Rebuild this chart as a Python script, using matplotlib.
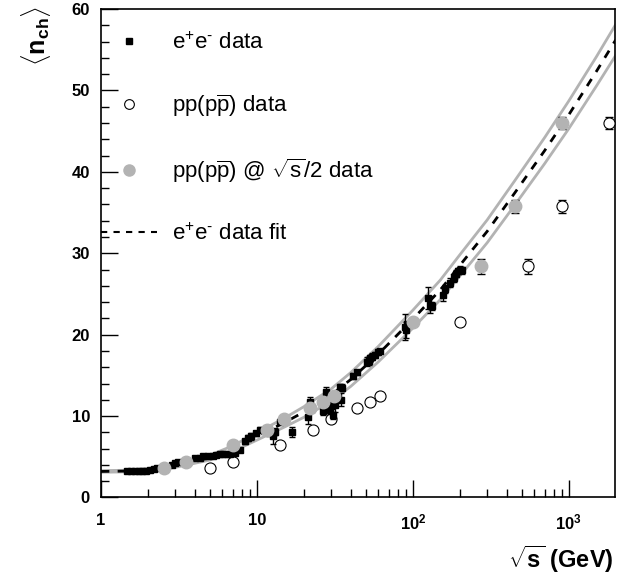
import numpy as np
import matplotlib as mpl
mpl.use('Agg')
import matplotlib.pyplot as plt
from matplotlib.ticker import MultipleLocator, LogLocator, NullFormatter
from matplotlib.lines import Line2D

mpl.rcParams['font.family'] = ['Liberation Sans', 'DejaVu Sans']
mpl.rcParams['mathtext.fontset'] = 'custom'
mpl.rcParams['mathtext.rm'] = 'Liberation Sans'
mpl.rcParams['mathtext.it'] = 'Liberation Sans'
mpl.rcParams['mathtext.bf'] = 'Liberation Sans:bold'

# e+e- data (sqrt(s) GeV, <n_ch>, error)
ee_x = [1.46, 1.55, 1.65, 1.75, 1.82, 1.95, 2.06, 2.2, 2.27, 2.84, 3.0, 3.13,
        3.63, 4.0, 4.3, 4.52, 4.87, 5.2, 5.5, 5.8, 6.07, 6.4, 6.7, 7.2, 7.8,
        8.4, 8.8, 9.2, 9.9, 10.4, 12.0, 12.7, 13.0, 14.0, 14.7, 16.8, 21.2,
        21.9, 22.5, 26.5, 27.9, 29.3, 30.1, 30.8, 31.5, 34.0, 34.5, 35.0,
        41.3, 43.6, 50.6, 52.0, 53.0, 55.0, 57.0, 59.7, 62.0, 89.0, 91.0,
        91.2, 125, 129, 133, 156, 161, 172, 183, 189, 196, 200, 206]
ee_y = [3.2, 3.25, 3.3, 3.2, 3.2, 3.3, 3.4, 3.5, 3.6, 4.0, 4.2, 4.3,
        4.4, 4.8, 4.9, 5.1, 5.1, 5.15, 5.2, 5.3, 5.35, 5.4, 5.4, 5.5, 5.8,
        6.9, 7.3, 7.5, 7.9, 8.3, 8.0, 7.5, 8.1, 9.3, 9.5, 8.0, 9.9,
        11.7, 11.0, 10.6, 13.0, 10.8, 11.4, 10.1, 11.3, 13.6, 12.0, 13.5,
        14.9, 15.4, 16.7, 16.8, 17.1, 17.3, 17.5, 17.9, 18.0, 21.0, 20.6,
        21.3, 24.5, 23.7, 23.5, 24.9, 25.6, 26.4, 27.0, 27.5, 27.8, 28.0, 27.9]
ee_err = [0.1, 0.1, 0.1, 0.1, 0.1, 0.1, 0.1, 0.1, 0.1, 0.1, 0.1, 0.1,
          0.1, 0.1, 0.1, 0.1, 0.15, 0.1, 0.1, 0.1, 0.1, 0.1, 0.1, 0.1, 0.2,
          0.3, 0.4, 0.4, 0.3, 0.3, 0.4, 0.9, 0.4, 0.3, 0.3, 0.6, 0.9,
          0.6, 0.5, 0.5, 0.6, 0.5, 0.5, 0.4, 0.8, 0.4, 0.8, 0.4,
          0.4, 0.3, 0.5, 0.5, 0.4, 0.4, 0.4, 0.4, 0.3, 1.6, 1.0,
          0.2, 1.4, 1.0, 0.5, 0.8, 0.5, 0.5, 0.5, 0.4, 0.4, 0.4, 0.4]

# pp(ppbar) data
pp_x = [5.0, 7.0, 14.0, 23.0, 30.0, 44.0, 53.0, 62.0, 200.0, 546.0, 900.0, 1800.0]
pp_y = [3.6, 4.4, 6.5, 8.3, 9.6, 11.0, 11.7, 12.5, 21.6, 28.4, 35.8, 46.0]
pp_err = [0.0, 0.0, 0.0, 0.0, 0.0, 0.0, 0.0, 0.0, 0.0, 0.9, 0.8, 0.7]

# pp(ppbar) at sqrt(s)/2
pph_x = [2.55, 3.5, 7.0, 11.6, 15.0, 22.0, 26.5, 31.0, 100.0, 273.0, 450.0, 900.0]
pph_y = pp_y
pph_err = pp_err

# e+e- fit and its band
fit_x = [1, 1.5, 2, 3, 5, 7, 10, 15, 20, 30, 40, 60, 100, 150, 200, 300,
         450, 700, 1000, 1500, 2000]
fit_y = [3.2, 3.25, 3.4, 3.9, 4.9, 6.0, 7.5, 9.2, 10.5, 12.6, 14.5, 17.6,
         21.9, 25.5, 28.5, 32.7, 37.4, 42.6, 47.0, 52.3, 56.2]
fit_hi = [3.3, 3.35, 3.55, 4.1, 5.2, 6.35, 7.95, 9.75, 11.15, 13.35, 15.35,
          18.55, 23.0, 26.7, 29.8, 34.1, 38.9, 44.2, 48.7, 54.1, 58.1]
fit_lo = [3.1, 3.15, 3.25, 3.7, 4.6, 5.65, 7.05, 8.65, 9.85, 11.85, 13.65,
          16.65, 20.8, 24.3, 27.2, 31.3, 35.9, 41.0, 45.3, 50.5, 54.3]

grey = '#b3b3b3'

fig = plt.figure(figsize=(6.25, 5.82), dpi=100)
ax = fig.add_axes([0.1616, 0.1452, 0.8224, 0.8393])

ax.plot(fit_x, fit_hi, color=grey, lw=2, zorder=1)
ax.plot(fit_x, fit_lo, color=grey, lw=2, zorder=1)
ax.plot(fit_x, fit_y, color='k', lw=2, ls=(0, (3, 3)), zorder=2)

# error bars only where non-zero
pe = np.array(pp_err)
m = pe > 0
ax.errorbar(np.array(pp_x)[m], np.array(pp_y)[m], yerr=pe[m], fmt='none',
            ecolor='k', elinewidth=1, capsize=3, zorder=3)
ax.plot(pp_x, pp_y, 'o', ms=8, mfc='white', mec='k', mew=0.8, zorder=4)
ax.errorbar(np.array(pph_x)[m], np.array(pph_y)[m], yerr=pe[m], fmt='none',
            ecolor='k', elinewidth=1, capsize=3, zorder=3)
ax.plot(pph_x, pph_y, 'o', ms=9, color=grey, mec=grey, zorder=6)

ax.errorbar(ee_x, ee_y, yerr=ee_err, fmt='s', ms=5, color='k',
            ecolor='k', elinewidth=1, capsize=2.5, zorder=5)

ax.set_xscale('log')
ax.set_xlim(1, 1980)
ax.set_ylim(0, 60)

ax.set_xticks([1, 10, 100, 1000])
ax.set_xticklabels(['1', '10', r'$\mathbf{10^{2}}$', r'$\mathbf{10^{3}}$'])
ax.xaxis.set_minor_locator(LogLocator(base=10, subs=np.arange(2, 10)))
ax.xaxis.set_minor_formatter(NullFormatter())
ax.yaxis.set_major_locator(MultipleLocator(10))
ax.yaxis.set_minor_locator(MultipleLocator(2))

ax.tick_params(which='both', direction='in', top=False, right=False,
               labelsize=12)
ax.tick_params(which='major', length=12, width=1)
ax.tick_params(which='minor', length=6, width=1)
ax.tick_params(axis='x', which='major', pad=11)
ax.tick_params(axis='y', which='major', pad=8)
for lab in ax.get_xticklabels() + ax.get_yticklabels():
    lab.set_fontweight('bold')
for s in ax.spines.values():
    s.set_linewidth(1.2)

fig.text(0.982, 0.012, r'$\sqrt{\mathbf{s}}$ (GeV)', ha='right', va='bottom',
         fontsize=17, fontweight='bold')
fig.text(0.058, 0.99, r'$\langle\mathbf{n}_{\mathbf{ch}}\rangle$', rotation=90,
         ha='center', va='top', fontsize=18)

handles = [
    Line2D([], [], ls='none', marker='s', ms=5, color='k'),
    Line2D([], [], ls='none', marker='o', ms=7, mfc='white', mec='k', mew=0.8),
    Line2D([], [], ls='none', marker='o', ms=8, color=grey),
    Line2D([], [], color='k', lw=1.5, ls=(0, (3, 3))),
]
labels = [r'e$^{+}$e$^{\text{-}}$ data', r'pp(p$\overline{\rm p}$) data',
          r'pp(p$\overline{\rm p}$) @ $\sqrt{\rm s}$/2 data',
          r'e$^{+}$e$^{\text{-}}$ data fit']
ax.legend(handles, labels, loc='upper left', bbox_to_anchor=(0.0, 0.952),
          frameon=False, fontsize=16, labelspacing=1.72, handlelength=2.5,
          handletextpad=0.7, borderaxespad=0.0, borderpad=0.0)

fig.savefig('out.png', dpi=100)
